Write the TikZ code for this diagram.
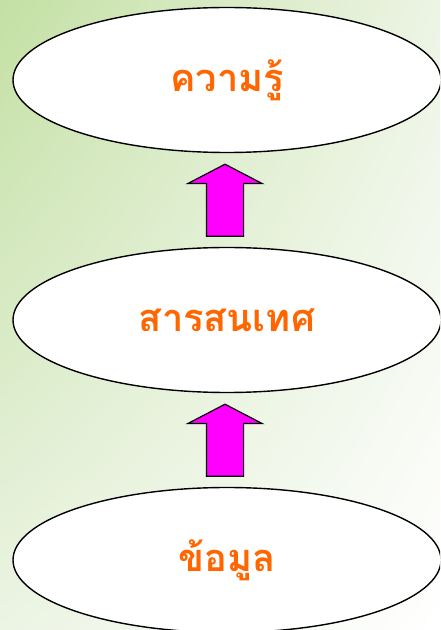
\documentclass[tikz,border=0pt]{standalone}
\usepackage{fontspec}
\newfontfamily\thaifont[Script=Thai]{Loma}
\usetikzlibrary{calc,shapes.geometric,shapes.arrows,shadings}
\definecolor{bggreen}{RGB}{196,224,164}
\definecolor{bgmid}{RGB}{236,244,228}
\definecolor{labelorange}{RGB}{255,102,0}
\definecolor{arrowpink}{RGB}{255,0,255}
\tikzset{
  level/.style={ellipse, draw=black, line width=1.4pt, fill=white,
    minimum width=428pt, minimum height=145pt, inner sep=0pt,
    font=\thaifont\bfseries\fontsize{38}{44}\selectfont, text=labelorange},
  uparrow/.style={single arrow, draw=black, line width=1.2pt, fill=arrowpink,
    rotate=90, anchor=tail, minimum height=72pt, inner xsep=0pt, inner ysep=18pt,
    single arrow head extend=18.5pt, single arrow tip angle=125}
}
\begin{document}
\begin{tikzpicture}[x=1pt,y=1pt]
%define stuff
\def\bbleft{0}
\def\bbright{440}
\def\bbbottom{0}
\def\bbtop{630}
\def\midx{227}
\def\gap{10}
%set bounding box
\useasboundingbox (\bbleft,\bbbottom) rectangle (\bbright,\bbtop);
\clip (\bbleft,\bbbottom) rectangle (\bbright,\bbtop);
%background
\shade[upper left=bggreen, upper right=bgmid, lower left=bgmid, lower right=white]
  (\bbleft,\bbbottom) rectangle (\bbright,\bbtop);
%levels
\node[level] (knowledge) at (\midx,550) {ความรู้};
\node[level] (information) at (\midx,310) {สารสนเทศ};
\node[level] (data) at (\midx,70) {ข้อมูล};
%arrows
\node[uparrow] (arrow1) at ($(data.north)+(-2,\gap)$) {};
\node[uparrow] (arrow2) at ($(information.north)+(-2,\gap)$) {};
\end{tikzpicture}
\end{document}
